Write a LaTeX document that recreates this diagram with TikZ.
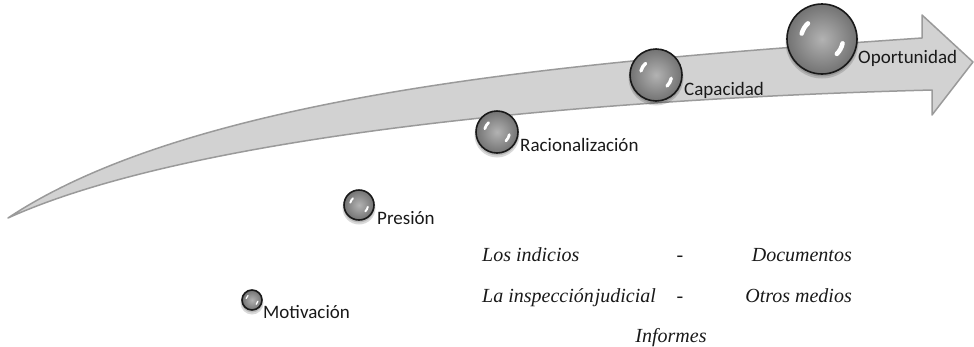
\documentclass[tikz,border=0pt]{standalone}
\usepackage{fontspec}
\setmainfont{Liberation Serif}
\newfontfamily\labfont{Carlito}
\usetikzlibrary{calc}
\definecolor{arrowfill}{HTML}{D2D2D2}
\definecolor{arrowline}{HTML}{9A9A9A}
\tikzset{
  arrowbody/.style={fill=arrowfill, draw=arrowline, line width=1.5pt, line join=round},
  ball/.style={circle, draw=black!90, line width=1.6pt, inner sep=0pt, minimum size=#1,
    inner color=black!30, outer color=black!55},
  ballshadow/.style={fill=black, opacity=0.15},
  shine/.style={white, line cap=round},
  lab/.style={anchor=base west, inner sep=0pt, font=\labfont\fontsize{19}{22}\selectfont, text=black!90},
  ital/.style={inner sep=0pt, font=\itshape\fontsize{20}{24}\selectfont, text=black!90}
}
\begin{document}
\begin{tikzpicture}[x=1pt,y=-1pt]
\useasboundingbox (0,0) rectangle (974,346);
% arrow
\draw[arrowbody] (8,218) .. controls (200,90) and (600,60) .. (922,38)
  -- (922,15) -- (973,62) -- (932,115) -- (932,90)
  .. controls (550,100) and (180,140) .. (8,218) -- cycle;
% shadows
\foreach \x/\y/\r in {252/300/10, 359/205/15, 497/132/21, 656/75/26, 822/39/35}{
  \fill[ballshadow] (\x,\y+3) circle ({\r pt+1.5pt});
  \fill[ballshadow] (\x,\y+2) circle ({\r pt+0.5pt});
}
% spheres
\node[ball=20pt] (mot) at (252,300) {};
\node[ball=30pt] (pre) at (359,205) {};
\node[ball=42pt] (rac) at (497,132) {};
\node[ball=52pt] (cap) at (656,75) {};
\node[ball=70pt] (opo) at (822,39) {};
% highlights
\foreach \n/\r in {mot/10, pre/15, rac/21, cap/26, opo/35}{
  \draw[shine, line width={0.13*\r pt}] ($(\n)+(132:{0.6*\r pt})$) arc[start angle=132, end angle=165, radius={0.6*\r pt}];
  \draw[shine, line width={0.13*\r pt}] ($(\n)+(-12:{0.6*\r pt})$) arc[start angle=-12, end angle=-45, radius={0.6*\r pt}];
}
% labels
\node[lab] (motl) at (263,318) {Motivación};
\node[lab] (prel) at (377,224) {Presión};
\node[lab] (racl) at (520,151) {Racionalización};
\node[lab] (capl) at (684,95) {Capacidad};
\node[lab] (opol) at (858,63) {Oportunidad};
% italic list
\node[ital, anchor=base west] (t1) at (482,261) {Los indicios};
\node[ital, anchor=base] (d1) at (680,261) {-};
\node[ital, anchor=base east] (t2) at (852,261) {Documentos};
\node[ital, anchor=base west] (t3) at (482,302) {La inspección\hspace{0.05em}judicial};
\node[ital, anchor=base] (d2) at (680,302) {-};
\node[ital, anchor=base east] (t4) at (852,302) {Otros medios};
\node[ital, anchor=base] (t5) at (671,342) {Informes};
\end{tikzpicture}
\end{document}
